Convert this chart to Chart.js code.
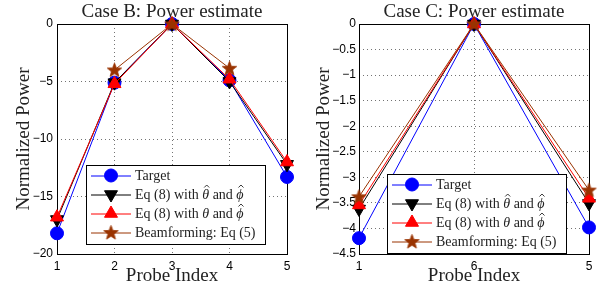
<!DOCTYPE html>
<html>
<head>
<meta charset="utf-8">
<script src="https://cdn.jsdelivr.net/npm/chart.js@4"></script>
<style>
  body { margin: 0; background: #fff; width: 607px; height: 289px; position: relative; overflow: hidden; }
  #caseB { position: absolute; left: 0; top: 0; }
  #caseC { position: absolute; left: 300px; top: 0; }
</style>
</head>
<body>
<canvas id="caseB" width="300" height="289"></canvas>
<canvas id="caseC" width="307" height="289"></canvas>
<script>
// Case B data (probes 1..5)
const probesB = ['1', '2', '3', '4', '5']
const targetB = [-18.2, -5.1, 0, -4.9, -13.3]
const eqHatB = [-17.0, -5.1, 0, -5.0, -12.2]
const eqThetaB = [-16.8, -5.2, 0, -4.8, -12.0]
const beamB = [null, -4.0, 0, -3.85, null]

// Case C data (three probes, labelled as in the figure)
const probesC = ['1', '6', '5']
const targetC = [-4.19, 0, -3.98]
const eqHatC = [-3.62, 0, -3.51]
const eqThetaC = [-3.54, 0, -3.41]
const beamC = [-3.38, 0, -3.25]

const seriesNames = ['Target', 'Eq (8) with θ̂ and ϕ̂', 'Eq (8) with θ and ϕ̂', 'Beamforming: Eq (5)']

const serif = '"Liberation Serif", "DejaVu Serif", serif'
const sans = '"Liberation Sans", Arial, sans-serif'
const BROWN = '#993300'

function makeStar(color) {
  const c = document.createElement('canvas')
  c.width = 17
  c.height = 17
  const g = c.getContext('2d')
  g.beginPath()
  for (let i = 0; i < 10; i++) {
    const r = i % 2 ? 3.2 : 7.6
    const a = -Math.PI / 2 + i * Math.PI / 5
    g.lineTo(8.5 + r * Math.cos(a), 9 + r * Math.sin(a))
  }
  g.closePath()
  g.fillStyle = color
  g.fill()
  g.strokeStyle = color
  g.lineWidth = 0.8
  g.stroke()
  return c
}
const star = makeStar(BROWN)

// marker styles, one per series
const styles = [
  { color: '#0000ff', pointStyle: 'circle', rotation: 0, radius: 6.5, order: 4 },
  { color: '#000000', pointStyle: 'triangle', rotation: 180, radius: 7.5, order: 3 },
  { color: '#ff0000', pointStyle: 'triangle', rotation: 0, radius: 7.5, order: 2 },
  { color: BROWN, pointStyle: star, rotation: 0, radius: 7.5, order: 1 }
]

// legend text pieces: [text, italic, hat]
const legendText = [
  [['Target', false, false]],
  [['Eq (8) with ', false, false], ['θ', true, true], [' and ', false, false], ['ϕ', true, true]],
  [['Eq (8) with ', false, false], ['θ', true, false], [' and ', false, false], ['ϕ', true, true]],
  [['Beamforming: Eq (5)', false, false]]
]

const deco = {
  id: 'deco',
  beforeDatasetsDraw(chart, args, opts) {
    const { ctx, chartArea: a } = chart
    ctx.save()
    ctx.strokeStyle = '#000'
    ctx.lineWidth = 1
    ctx.strokeRect(Math.round(a.left) + 0.5, Math.round(a.top) + 0.5, Math.round(a.width), Math.round(a.height))
    ctx.fillStyle = '#222'
    ctx.font = '19px ' + serif
    ctx.textAlign = 'center'
    ctx.textBaseline = 'middle'
    ctx.fillText(opts.title, (a.left + a.right) / 2, 12)
    ctx.restore()
  },
  afterDatasetsDraw(chart, args, opts) {
    const { ctx } = chart
    const L = opts.legend
    ctx.save()
    ctx.fillStyle = '#fff'
    ctx.fillRect(L.x, L.y, 179, 79)
    ctx.strokeStyle = '#000'
    ctx.lineWidth = 1
    ctx.strokeRect(L.x + 0.5, L.y + 0.5, 179, 79)
    const rows = [10.5, 29.5, 48.5, 67.5]
    styles.forEach((s, i) => {
      const y = L.y + rows[i]
      ctx.strokeStyle = s.color
      ctx.lineWidth = 1
      ctx.beginPath()
      ctx.moveTo(L.x + 5, y + 0.5)
      ctx.lineTo(L.x + 45, y + 0.5)
      ctx.stroke()
      ctx.fillStyle = s.color
      Chart.helpers.drawPoint(ctx, { pointStyle: s.pointStyle, rotation: s.rotation, radius: s.radius, borderWidth: 1 }, L.x + 25, y)
      let tx = L.x + 49
      ctx.fillStyle = '#222'
      ctx.textAlign = 'left'
      ctx.textBaseline = 'middle'
      legendText[i].forEach(([t, it, hat]) => {
        ctx.font = (it ? 'italic ' : '') + '14px ' + serif
        ctx.fillText(t, tx, y + 1)
        const w = ctx.measureText(t).width
        if (hat) {
          const cx = tx + w / 2 + 1
          ctx.strokeStyle = '#222'
          ctx.lineWidth = 0.9
          ctx.beginPath()
          ctx.moveTo(cx - 2.5, y - 7)
          ctx.lineTo(cx, y - 9.5)
          ctx.lineTo(cx + 2.5, y - 7)
          ctx.stroke()
        }
        tx += w
      })
    })
    ctx.restore()
  }
}

function datasets(values) {
  return values.map((d, i) => ({
    label: seriesNames[i],
    data: d,
    borderColor: styles[i].color,
    backgroundColor: styles[i].color,
    pointBackgroundColor: styles[i].color,
    pointBorderColor: styles[i].color,
    pointStyle: styles[i].pointStyle,
    rotation: styles[i].rotation,
    pointRadius: styles[i].radius,
    pointBorderWidth: 1,
    borderWidth: 1,
    tension: 0,
    spanGaps: false,
    clip: false,
    order: styles[i].order
  }))
}

function fmt(v) {
  const r = Math.round(v * 10) / 10
  return r < 0 ? '\u2212' + String(-r) : '0'
}

function makeChart(id, probes, values, yMin, yStep, title, legend, yWidth, padRight, tickPad) {
  return new Chart(document.getElementById(id), {
    type: 'line',
    data: { labels: probes, datasets: datasets(values) },
    options: {
      responsive: false,
      animation: false,
      layout: { padding: { top: 24, right: padRight, left: 0, bottom: 0 } },
      plugins: {
        legend: { display: false },
        title: { display: false },
        tooltip: { enabled: false },
        deco: { title, legend }
      },
      scales: {
        x: {
          type: 'category',
          grid: { color: 'rgba(0,0,0,0.55)', lineWidth: 1, drawTicks: false },
          border: { display: false, dash: [1, 3] },
          ticks: { color: '#000', font: { family: sans, size: 12 }, padding: 5, maxRotation: 0, autoSkip: false },
          title: { display: true, text: 'Probe Index', color: '#222', font: { family: serif, size: 19 }, padding: { top: 0, bottom: 2 } },
          afterFit(scale) { scale.height = 35 }
        },
        y: {
          type: 'linear',
          min: yMin,
          max: 0,
          grid: { color: 'rgba(0,0,0,0.55)', lineWidth: 1, drawTicks: false },
          border: { display: false, dash: [1, 3] },
          ticks: { stepSize: yStep, color: '#000', font: { family: sans, size: 12 }, padding: tickPad, callback: fmt },
          title: { display: true, text: 'Normalized Power', color: '#222', font: { family: serif, size: 19 }, padding: { top: 13, bottom: 0 } },
          afterFit(scale) { scale.width = yWidth }
        }
      }
    },
    plugins: [deco]
  })
}

makeChart('caseB', probesB, [targetB, eqHatB, eqThetaB, beamB], -20, 5, 'Case B: Power estimate', { x: 86, y: 165 }, 57, 13, 4)
makeChart('caseC', probesC, [targetC, eqHatC, eqThetaC, beamC], -4.5, 0.5, 'Case C: Power estimate', { x: 87, y: 174 }, 59, 18, 3)
</script>
</body>
</html>
